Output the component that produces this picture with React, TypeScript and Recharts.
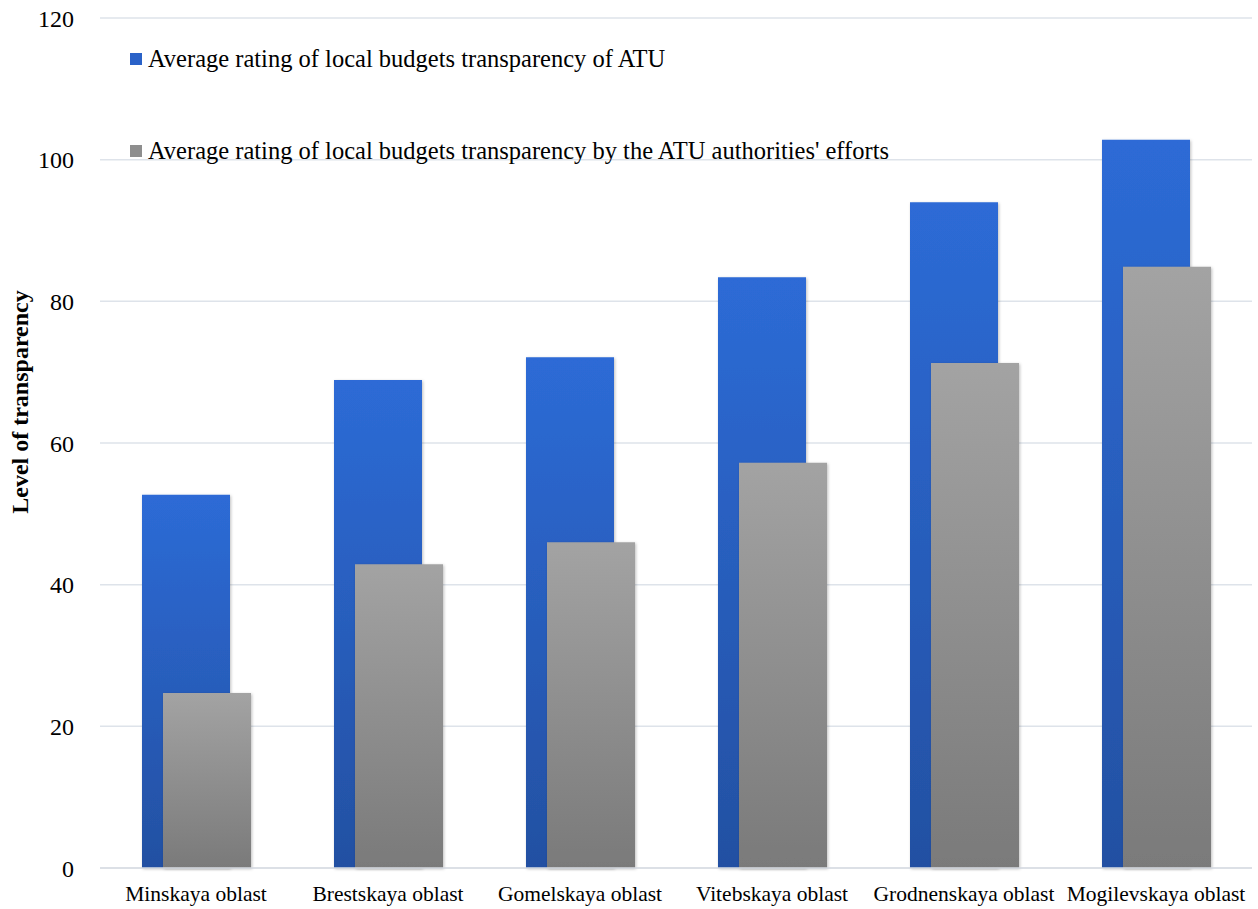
import React from 'react'
import { BarChart, Bar, XAxis, YAxis, CartesianGrid, Label } from 'recharts'

const regions = [
  'Minskaya oblast',
  'Brestskaya oblast',
  'Gomelskaya oblast',
  'Vitebskaya oblast',
  'Grodnenskaya oblast',
  'Mogilevskaya oblast'
]
const ratingTotal = [52.7, 68.9, 72.1, 83.4, 94.0, 102.8]
const ratingAuthorities = [24.7, 42.9, 46.0, 57.2, 71.3, 84.9]
const yTicks = [0, 20, 40, 60, 80, 100, 120]

const totalName = 'Average rating of local budgets transparency of ATU'
const authoritiesName = "Average rating of local budgets transparency by the ATU authorities' efforts"

const data = regions.map((region, i) => ({
  region,
  total: ratingTotal[i],
  authorities: ratingAuthorities[i]
}))

const serif = '"Liberation Serif", "Times New Roman", serif'

const legendItems = [
  { name: totalName, color: '#2A62C8' },
  { name: authoritiesName, color: '#8E8E8E' }
]

// legend sits over the plot, so it is kept outside the chart's layout
const ChartLegend: React.FC = () => (
  <div
    style={{
      position: 'absolute',
      top: 45,
      left: 130,
      fontFamily: serif,
      fontSize: 24.5,
      color: '#000',
      whiteSpace: 'nowrap'
    }}
  >
    {legendItems.map((item, i) => (
      <div
        key={item.name}
        style={{ display: 'flex', alignItems: 'center', height: 28, marginBottom: i === 0 ? 64 : 0 }}
      >
        <span style={{ width: 12, height: 12, background: item.color, marginRight: 6, display: 'inline-block' }} />
        <span>{item.name}</span>
      </div>
    ))}
  </div>
)

const App: React.FC = () => {
  return (
    <div style={{ position: 'absolute', left: 0, top: 0, width: 1258, height: 909, background: '#fff' }}>
      <BarChart
        width={1258}
        height={909}
        data={data}
        margin={{ top: 18, right: 6, bottom: 11, left: 0 }}
        barSize={88}
        barGap={-67}
        barCategoryGap={0}
      >
        <defs>
          <linearGradient id="gradBlue" x1="0" y1="0" x2="0" y2="1">
            <stop offset="0%" stopColor="#2D6BD6" />
            <stop offset="100%" stopColor="#2350A2" />
          </linearGradient>
          <linearGradient id="gradGray" x1="0" y1="0" x2="0" y2="1">
            <stop offset="0%" stopColor="#A3A3A3" />
            <stop offset="100%" stopColor="#7A7A7A" />
          </linearGradient>
          <filter id="barShadow" x="-10%" y="-10%" width="120%" height="120%">
            <feDropShadow dx="1" dy="1" stdDeviation="1.5" floodColor="#000" floodOpacity="0.25" />
          </filter>
        </defs>
        <CartesianGrid vertical={false} stroke="#DEE3EA" strokeWidth={1.5} />
        <XAxis
          dataKey="region"
          height={30}
          axisLine={{ stroke: '#D9DDE3', strokeWidth: 1.5 }}
          tickLine={false}
          tickMargin={12}
          interval={0}
          tick={{ fontFamily: serif, fontSize: 21.5, fill: '#000' }}
        />
        <YAxis
          width={100}
          domain={[0, 120]}
          ticks={yTicks}
          axisLine={false}
          tickLine={false}
          tickMargin={20}
          tick={{ fontFamily: serif, fontSize: 24, fill: '#000' }}
        >
          <Label
            content={() => (
              <text
                x={20}
                y={402}
                transform="rotate(-90 20 402)"
                textAnchor="middle"
                dominantBaseline="central"
                fontFamily={serif}
                fontSize={24}
                fontWeight="bold"
                fill="#000"
              >
                Level of transparency
              </text>
            )}
          />
        </YAxis>
        <Bar dataKey="total" name={totalName} fill="url(#gradBlue)" filter="url(#barShadow)" isAnimationActive={false} />
        <Bar dataKey="authorities" name={authoritiesName} fill="url(#gradGray)" filter="url(#barShadow)" isAnimationActive={false} />
      </BarChart>
      <ChartLegend />
    </div>
  )
}

export default App
